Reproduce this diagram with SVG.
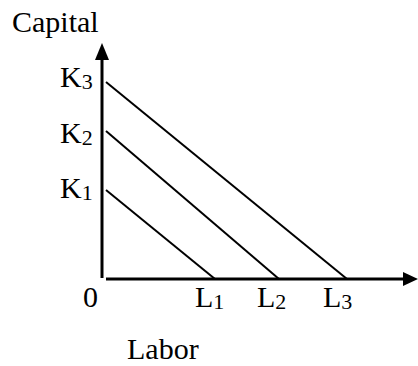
<svg xmlns="http://www.w3.org/2000/svg" width="418" height="366" viewBox="0 0 418 366">
<style>
text{font-family:"Liberation Serif","Times New Roman",serif;font-size:30px;fill:#000}
.sub{font-size:22px}
.axis{stroke:#000;stroke-width:3;fill:none}
.iso{stroke:#000;stroke-width:2;fill:none}
</style>
<g id="connectors">
<line class="axis" x1="102" y1="278" x2="102" y2="58"/>
<polygon points="102,43 95,60 109,60"/>
<line class="axis" x1="106" y1="279" x2="404" y2="279"/>
<polygon points="418,279 403,272 403,286"/>
<line class="iso" x1="106" y1="190" x2="215" y2="279"/>
<line class="iso" x1="106" y1="131" x2="279" y2="279"/>
<line class="iso" x1="106" y1="82" x2="347" y2="279"/>
</g>
<g id="capital"><text x="12" y="32">Capital</text></g>
<g id="labor"><text x="127" y="359">Labor</text></g>
<g id="k3"><text x="60" y="87">K<tspan class="sub" dy="2">3</tspan></text></g>
<g id="k2"><text x="60" y="143">K<tspan class="sub" dy="2">2</tspan></text></g>
<g id="k1"><text x="60" y="198">K<tspan class="sub" dy="2">1</tspan></text></g>
<g id="origin"><text x="83" y="307">0</text></g>
<g id="l1"><text x="195" y="307">L<tspan class="sub" dy="2">1</tspan></text></g>
<g id="l2"><text x="257" y="307">L<tspan class="sub" dy="2">2</tspan></text></g>
<g id="l3"><text x="323" y="307">L<tspan class="sub" dy="2">3</tspan></text></g>
</svg>
